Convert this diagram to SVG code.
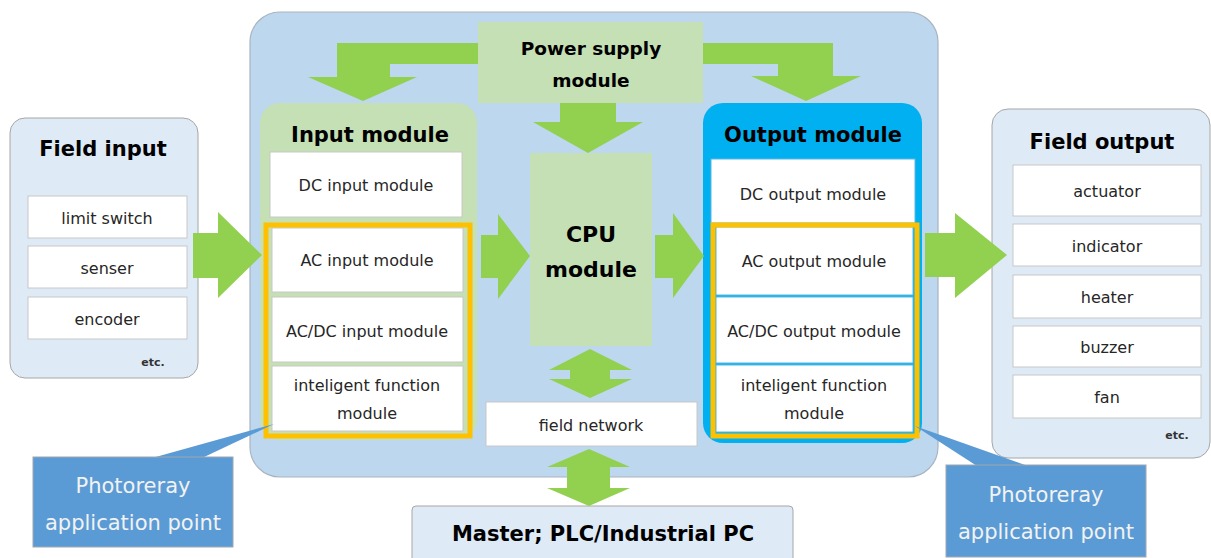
<svg xmlns="http://www.w3.org/2000/svg" width="1211" height="558" viewBox="0 0 1211 558">
  <style>
    .field { fill: #DEEBF7; stroke: #A6A6A6; stroke-width: 1; }
    .plc { fill: #BDD7EE; stroke: #A9B4C0; stroke-width: 1.2; }
    .green { fill: #C5E0B4; }
    .blue { fill: #00B0F0; }
    .item { fill: #FFFFFF; stroke: #C8C8C8; stroke-width: 1; }
    .frame { fill: none; stroke: #FFC000; stroke-width: 5; }
    .arrow { fill: #92D050; }
    .callout { fill: #5B9BD5; stroke: #A0A8B0; stroke-width: 1; }
    .pointer { fill: #5B9BD5; }
    text { font-family: "DejaVu Sans", "Liberation Sans", sans-serif; fill: #1A1A1A; text-anchor: middle; }
    .title { font-size: 21px; font-weight: bold; fill: #000; }
    .label { font-size: 16px; dominant-baseline: central; fill: #262626; }
    .etc { font-size: 11px; font-weight: bold; fill: #333; }
    .note { font-size: 21px; fill: #F2F2F2; dominant-baseline: central; }
  </style>

  <!-- PLC chassis background -->
  <g id="plc">
    <rect class="plc" x="250" y="12" width="688" height="465" rx="30"/>
  </g>

  <!-- field input devices -->
  <g id="field-input">
    <rect class="field" x="10" y="118" width="188" height="260" rx="15"/>
    <text class="title" x="103" y="156">Field input</text>
    <rect class="item" x="28" y="196" width="159" height="42"/>
    <text class="label" x="107" y="218">limit switch</text>
    <rect class="item" x="28" y="246" width="159" height="42"/>
    <text class="label" x="107" y="268">senser</text>
    <rect class="item" x="28" y="297" width="159" height="42"/>
    <text class="label" x="107" y="319">encoder</text>
    <text class="etc" x="153" y="366">etc.</text>
  </g>

  <!-- power supply -->
  <g id="power-supply">
    <rect class="green" x="478" y="22" width="225" height="81"/>
    <text class="title" style="font-size:18.5px" x="591" y="55">Power supply</text>
    <text class="title" style="font-size:18.5px" x="591" y="87">module</text>
  </g>

  <!-- input module -->
  <g id="input-module">
    <rect class="green" x="260" y="103" width="217" height="337" rx="20"/>
    <text class="title" x="370" y="142">Input module</text>
    <rect class="item" x="270" y="152" width="192" height="65"/>
    <text class="label" x="366" y="185">DC input module</text>
    <rect class="item" x="272" y="228" width="191" height="64"/>
    <text class="label" x="367" y="260">AC input module</text>
    <rect class="item" x="272" y="297" width="191" height="65"/>
    <text class="label" x="367" y="331">AC/DC input module</text>
    <rect class="item" x="272" y="366" width="191" height="65"/>
    <text class="label" x="367" y="385">inteligent function</text>
    <text class="label" x="367" y="413">module</text>
    <rect class="frame" x="266" y="225" width="204" height="211"/>
  </g>

  <!-- CPU module -->
  <g id="cpu-module">
    <rect class="green" x="530" y="153" width="122" height="193"/>
    <text class="title" style="font-size:22px" x="591" y="242">CPU</text>
    <text class="title" style="font-size:22px" x="591" y="277">module</text>
  </g>

  <!-- field network -->
  <g id="field-network">
    <rect class="item" x="486" y="402" width="211" height="44"/>
    <text class="label" x="591" y="425">field network</text>
  </g>

  <!-- output module -->
  <g id="output-module">
    <rect class="blue" x="703" y="103" width="219" height="340" rx="20"/>
    <text class="title" x="813" y="142">Output module</text>
    <rect class="item" x="711" y="159" width="204" height="64" style="stroke:#5BB7E0"/>
    <text class="label" x="813" y="194">DC output module</text>
    <rect class="item" x="716" y="227" width="197" height="68" style="stroke:#5BB7E0"/>
    <text class="label" x="814" y="261">AC output module</text>
    <rect class="item" x="716" y="297" width="197" height="66" style="stroke:#5BB7E0"/>
    <text class="label" x="814" y="331">AC/DC output module</text>
    <rect class="item" x="716" y="365" width="197" height="67" style="stroke:#5BB7E0"/>
    <text class="label" x="814" y="385">inteligent function</text>
    <text class="label" x="814" y="413">module</text>
    <rect class="frame" x="713" y="225" width="204" height="211"/>
  </g>

  <!-- field output devices -->
  <g id="field-output">
    <rect class="field" x="992" y="109" width="218" height="349" rx="16"/>
    <text class="title" x="1102" y="149">Field output</text>
    <rect class="item" x="1013" y="165" width="188" height="51"/>
    <text class="label" x="1107" y="191">actuator</text>
    <rect class="item" x="1013" y="224" width="188" height="42"/>
    <text class="label" x="1107" y="246">indicator</text>
    <rect class="item" x="1013" y="275" width="188" height="43"/>
    <text class="label" x="1107" y="297">heater</text>
    <rect class="item" x="1013" y="326" width="188" height="41"/>
    <text class="label" x="1107" y="347">buzzer</text>
    <rect class="item" x="1013" y="375" width="188" height="43"/>
    <text class="label" x="1107" y="397">fan</text>
    <text class="etc" x="1177" y="439">etc.</text>
  </g>

  <!-- master controller -->
  <g id="master">
    <rect class="field" x="412" y="506" width="381" height="60" rx="4"/>
    <text class="title" x="603" y="541">Master; PLC/Industrial PC</text>
  </g>

  <!-- block arrows -->
  <g id="connectors">
    <!-- field input -> input module -->
    <polygon class="arrow" points="193,233 218,233 218,212 262,255 218,298 218,278 193,278"/>
    <!-- input module -> CPU -->
    <polygon class="arrow" points="481,235 498,235 498,214 530,256 498,299 498,278 481,278"/>
    <!-- CPU -> output module -->
    <polygon class="arrow" points="655,235 673,235 673,213 704,256 673,298 673,278 655,278"/>
    <!-- output module -> field output -->
    <polygon class="arrow" points="925,233 955,233 955,213 1007,255 955,298 955,277 925,277"/>
    <!-- power supply -> input module -->
    <polygon class="arrow" points="478,43 337,43 337,77 308,77 363,101 417,77 390,77 390,64 478,64"/>
    <!-- power supply -> output module -->
    <polygon class="arrow" points="703,43 833,43 833,76 861,76 806,101 751,76 778,76 778,64 703,64"/>
    <!-- power supply -> CPU -->
    <polygon class="arrow" points="560,103 616,103 616,122 643,122 588,153 533,122 560,122"/>
    <!-- CPU <-> field network -->
    <polygon class="arrow" points="590,349 632,370 610,370 610,379 632,379 590,398 549,379 570,379 570,370 549,370"/>
    <!-- field network <-> master -->
    <polygon class="arrow" points="589,449 630,467 610,467 610,488 630,488 589,506 547,488 567,488 567,467 547,467"/>
  </g>

  <!-- callouts -->
  <g id="callout-input">
    <polygon class="pointer" points="152,458 202,458 274,424"/>
    <rect class="callout" x="33" y="457" width="200" height="90"/>
    <text class="note" x="133" y="486">Photoreray</text>
    <text class="note" x="133" y="523">application point</text>
  </g>
  <g id="callout-output">
    <polygon class="pointer" points="915,426 977,466 1028,466"/>
    <rect class="callout" x="946" y="465" width="200" height="92"/>
    <text class="note" x="1046" y="495">Photoreray</text>
    <text class="note" x="1046" y="532">application point</text>
  </g>
</svg>
